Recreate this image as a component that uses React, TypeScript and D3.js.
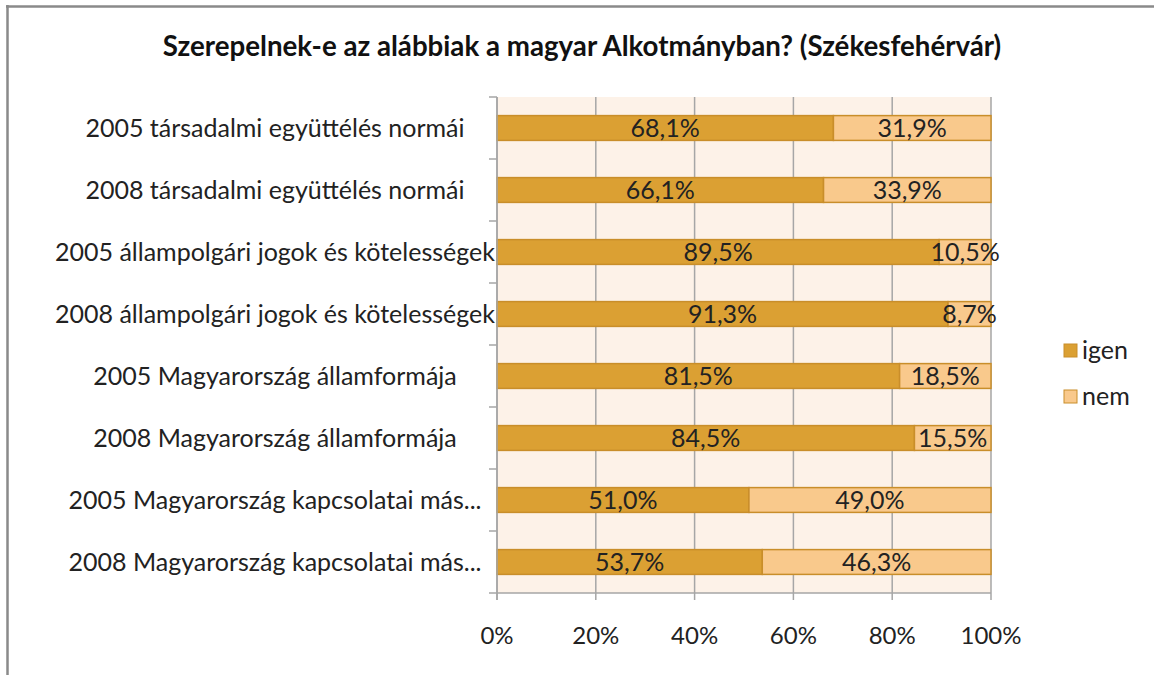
import React from "react";
import * as d3 from "d3";

const categories = [
  "2005 társadalmi együttélés normái",
  "2008 társadalmi együttélés normái",
  "2005 állampolgári jogok és kötelességek",
  "2008 állampolgári jogok és kötelességek",
  "2005 Magyarország államformája",
  "2008 Magyarország államformája",
  "2005 Magyarország kapcsolatai más...",
  "2008 Magyarország kapcsolatai más...",
];
const igen = [68.1, 66.1, 89.5, 91.3, 81.5, 84.5, 51.0, 53.7];
const nem = [31.9, 33.9, 10.5, 8.7, 18.5, 15.5, 49.0, 46.3];
const seriesNames = ["igen", "nem"];
const xTicks = [0, 20, 40, 60, 80, 100];
const title = "Szerepelnek-e az alábbiak a magyar Alkotmányban? (Székesfehérvár)";

const W = 1154;
const H = 675;
const margin = { left: 497, right: 163, top: 97, bottom: 82 };
const colors = ["#DBA033", "#F9C98C"];
const strokeCol = "#C98E2A";
const font = "Lato, 'Open Sans', sans-serif";

export default function App() {
  const x = d3.scaleLinear().domain([0, 100]).range([margin.left, W - margin.right]);
  const y = d3
    .scaleBand<string>()
    .domain(categories)
    .range([margin.top, H - margin.bottom])
    .paddingInner(0.6)
    .paddingOuter(0.3);
  const yOuter = d3.scaleBand<string>().domain(categories).range([margin.top, H - margin.bottom]);
  const data = categories.map((c, i) => ({ c, vals: [igen[i], nem[i]] }));
  const stack = data.map((d) =>
    d.vals.map((v, k) => {
      const x0 = d3.sum(d.vals.slice(0, k));
      return { x0, x1: x0 + v, v, k };
    })
  );
  const fmt = (v: number) => v.toFixed(1).replace(".", ",") + "%";
  const y0 = margin.top;
  const y1 = H - margin.bottom;

  return (
    <svg
      width={W}
      height={H}
      style={{ position: "absolute", left: 0, top: 0, background: "#fff" }}
      fontFamily={font}
    >
      <rect x={0} y={0} width={W} height={H} fill="#fff" />
      <line x1={7.5} x2={7.5} y1={5} y2={H} stroke="#8a8a8a" strokeWidth={2.5} />
      <line x1={6} x2={W} y1={6.5} y2={6.5} stroke="#8a8a8a" strokeWidth={2.5} />
      <text x={582} y={56} textAnchor="middle" fontSize={27.7} fontWeight="bold" fill="#111">
        {title}
      </text>
      <rect x={margin.left} y={y0} width={x(100) - margin.left} height={y1 - y0} fill="#FDF2E8" />
      {xTicks.map((t) => (
        <g key={t}>
          <line x1={x(t)} x2={x(t)} y1={y0} y2={y1 + 7} stroke="#A6A6A6" strokeWidth={1.5} />
          <text x={x(t)} y={644} textAnchor="middle" fontSize={24} fill="#222">
            {t}%
          </text>
        </g>
      ))}
      <line x1={margin.left} x2={x(100)} y1={y1} y2={y1} stroke="#A6A6A6" strokeWidth={1.5} />
      {categories.map((c) => (
        <line
          key={"t" + c}
          x1={margin.left - 8}
          x2={margin.left}
          y1={yOuter(c)!}
          y2={yOuter(c)!}
          stroke="#A6A6A6"
          strokeWidth={1.5}
        />
      ))}
      <line x1={margin.left - 8} x2={margin.left} y1={y1} y2={y1} stroke="#A6A6A6" strokeWidth={1.5} />
      {data.map((d, i) => (
        <g key={d.c}>
          {stack[i].map((s) => (
            <rect
              key={s.k}
              x={x(s.x0)}
              y={y(d.c)!}
              width={x(s.x1) - x(s.x0)}
              height={y.bandwidth()}
              fill={colors[s.k]}
              stroke={strokeCol}
              strokeWidth={1.5}
            />
          ))}
          {stack[i].map((s) => (
            <text
              key={"l" + s.k}
              x={(x(s.x0) + x(s.x1)) / 2}
              y={y(d.c)! + y.bandwidth() / 2 + 9}
              textAnchor="middle"
              fontSize={25}
              fill="#222"
            >
              {fmt(s.v)}
            </text>
          ))}
          <text
            x={275}
            y={yOuter(d.c)! + yOuter.bandwidth() / 2 + 9}
            textAnchor="middle"
            fontSize={25}
            fill="#222"
          >
            {d.c}
          </text>
        </g>
      ))}
      <line x1={margin.left} x2={margin.left} y1={y0} y2={y1 + 7} stroke="#A6A6A6" strokeWidth={1.5} />
      {seriesNames.map((s, k) => (
        <g key={s}>
          <rect
            x={1064}
            y={344 + k * 46}
            width={13}
            height={13}
            fill={colors[k]}
            stroke={strokeCol}
            strokeWidth={1}
          />
          <text x={1082} y={359 + k * 46} fontSize={25} fill="#222">
            {s}
          </text>
        </g>
      ))}
    </svg>
  );
}
